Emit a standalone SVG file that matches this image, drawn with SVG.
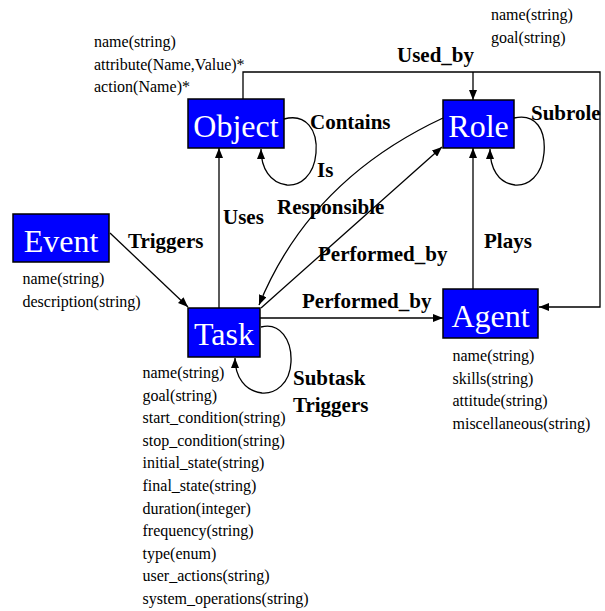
<svg xmlns="http://www.w3.org/2000/svg" width="605" height="611" viewBox="0 0 605 611">
<style>
.box{fill:#0000ff;stroke:#000;stroke-width:1.5}
.nl{font-family:"Liberation Serif","Times New Roman",serif;font-size:32px;fill:#fff}
.at{font-family:"Liberation Serif","Times New Roman",serif;font-size:16px;fill:#000}
.el{font-family:"Liberation Serif","Times New Roman",serif;font-size:21px;font-weight:bold;fill:#000}
.ln{fill:none;stroke:#000;stroke-width:1.3}
</style>
<defs>
<marker id="ah" viewBox="0 0 10 8" refX="10" refY="4" markerWidth="10" markerHeight="8" markerUnits="userSpaceOnUse" orient="auto">
<path d="M0,0 L10,4 L0,8 z" fill="#000"/>
</marker>
</defs>
<rect width="605" height="611" fill="#fff"/>
<g id="connectors">
<path class="ln" d="M243,99 V72 H600 V307 H539" marker-end="url(#ah)"/>
<path class="ln" d="M473,72 V100" marker-end="url(#ah)"/>
<path class="ln" d="M219,308 V148" marker-end="url(#ah)"/>
<path class="ln" d="M284,119 C306,113 318,130 316,153 C314,176 300,186 287,185 C270,183 261,168 261,149" marker-end="url(#ah)"/>
<path class="ln" d="M514,118 C536,113 546,130 544,153 C542,176 528,186 515,185 C498,183 490,168 490,149" marker-end="url(#ah)"/>
<path class="ln" d="M473,289 V148" marker-end="url(#ah)"/>
<path class="ln" d="M443,118 Q310,180 259,305" marker-end="url(#ah)"/>
<path class="ln" d="M261,308 L442,147" marker-end="url(#ah)"/>
<path class="ln" d="M260,318 H443" marker-end="url(#ah)"/>
<path class="ln" d="M110,233 L188,307" marker-end="url(#ah)"/>
<path class="ln" d="M261,327 C280,322 292,340 291,362 C290,384 275,394 262,393 C245,391 235,377 235,358" marker-end="url(#ah)"/>
<text class="el" x="397" y="62">Used_by</text>
<text class="el" x="310" y="129">Contains</text>
<text class="el" x="317" y="177">Is</text>
<text class="el" x="531" y="120">Subrole</text>
<text class="el" x="223" y="224">Uses</text>
<text class="el" x="277" y="214">Responsible</text>
<text class="el" x="128" y="248">Triggers</text>
<text class="el" x="318" y="261">Performed_by</text>
<text class="el" x="302" y="308">Performed_by</text>
<text class="el" x="484" y="248">Plays</text>
<text class="el" x="293" y="385">Subtask</text>
<text class="el" x="293" y="411.5">Triggers</text>
</g>
<g id="node-object">
<rect class="box" x="188" y="99" width="96" height="49"/>
<text class="nl" x="236" y="136.5" text-anchor="middle">Object</text>
<text class="at" x="94" y="47">name(string)</text>
<text class="at" x="94" y="69.5">attribute(Name,Value)*</text>
<text class="at" x="94" y="92">action(Name)*</text>
</g>
<g id="node-role">
<rect class="box" x="443" y="100" width="71" height="48"/>
<text class="nl" x="478.5" y="137" text-anchor="middle">Role</text>
<text class="at" x="491" y="20">name(string)</text>
<text class="at" x="491" y="42.5">goal(string)</text>
</g>
<g id="node-event">
<rect class="box" x="13" y="214" width="96" height="48"/>
<text class="nl" x="61" y="251.5" text-anchor="middle">Event</text>
<text class="at" x="22.5" y="284">name(string)</text>
<text class="at" x="22.5" y="306.5">description(string)</text>
</g>
<g id="node-task">
<rect class="box" x="188" y="308" width="72" height="49"/>
<text class="nl" x="224" y="345" text-anchor="middle">Task</text>
<text class="at" x="142.5" y="378">name(string)</text>
<text class="at" x="142.5" y="400.6">goal(string)</text>
<text class="at" x="142.5" y="423.2">start_condition(string)</text>
<text class="at" x="142.5" y="445.8">stop_condition(string)</text>
<text class="at" x="142.5" y="468.4">initial_state(string)</text>
<text class="at" x="142.5" y="491">final_state(string)</text>
<text class="at" x="142.5" y="513.6">duration(integer)</text>
<text class="at" x="142.5" y="536.2">frequency(string)</text>
<text class="at" x="142.5" y="558.8">type(enum)</text>
<text class="at" x="142.5" y="581.4">user_actions(string)</text>
<text class="at" x="142.5" y="604">system_operations(string)</text>
</g>
<g id="node-agent">
<rect class="box" x="443" y="289" width="95" height="49"/>
<text class="nl" x="490.5" y="326.5" text-anchor="middle">Agent</text>
<text class="at" x="452.5" y="361">name(string)</text>
<text class="at" x="452.5" y="383.5">skills(string)</text>
<text class="at" x="452.5" y="406">attitude(string)</text>
<text class="at" x="452.5" y="428.5">miscellaneous(string)</text>
</g>
</svg>
